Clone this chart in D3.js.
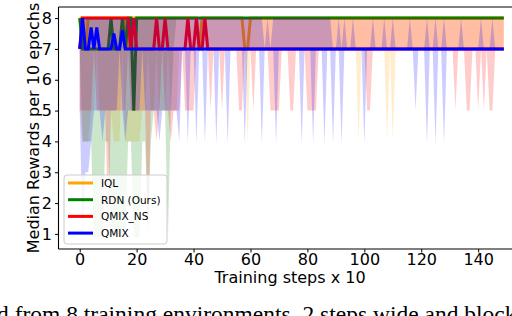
<!DOCTYPE html>
<html>
<head>
<meta charset="utf-8">
<script src="https://cdn.jsdelivr.net/npm/d3@7"></script>
<style>
  body { margin: 0; background: #fff; }
  svg { display: block; }
  .chart-text { font-family: "DejaVu Sans", sans-serif; }
  .caption { font-family: "Liberation Serif", serif; }
</style>
</head>
<body>
<div id="chart"></div>
<script>
// training steps (x 10)
var steps = d3.range(0, 150);
var xTicks = [0, 20, 40, 60, 80, 100, 120, 140];
var yTicks = [1, 2, 3, 4, 5, 6, 7, 8];
var labels = ["IQL", "RDN (Ours)", "QMIX_NS", "QMIX"];
var colors = ["orange", "green", "red", "blue"];

// IQL
var iqlMed = [8,8,7,8,8,8,8,8,8,8, 8,8,8,8,8,8,8,7,8,8, 8,8,8,8,8,8,8,8,8,8, 8,8,8,8,8,8,8,8,8,8,
  8,8,7,8,8,8,8,8,8,8, 8,8,8,8,8,8,8,8,7,7, 8,8,8,8,8,8,8,8,8,8, 8,8,8,8,8,8,8,8,8,8,
  8,8,8,8,8,8,8,8,8,8, 8,8,8,8,8,8,8,8,8,8, 8,8,8,8,8,8,8,8,8,8, 8,8,8,8,8,8,8,8,8,8,
  8,8,8,8,8,8,8,8,8,8, 8,8,8,8,8,8,8,8,8,8, 8,8,8,8,8,8,8,8,8,8];
var iqlLo = [5,4,4,4,5,5,7,5,5,5, 5,5,4,4,4,7,4,4,4,4, 4,4,5,5,7,5,5,7,5,5, 5,7,5,5,5,7,7,7,7,7,
  7,7,7,7,7,7,7,7,7,7, 7,7,7,7,7,7,7,7,7,4, 7,7,7,7,7,7,7,7,7,7, 7,7,7,7,7,7,7,7,7,7,
  7,7,7,7,7,7,7,7,7,7, 7,7,7,7,7,7,7,7,4,7, 7,7,7,7,7,7,7,7,4,7, 4,7,7,7,7,7,7,7,7,7,
  7,7,7,7,7,7,7,7,7,7, 7,7,7,7,7,7,7,7,7,7, 7,7,7,7,7,7,7,7,7,7];
var iqlHi = [8,8,8,8,8,8,8,8,8,8, 8,8,8,8,8,8,8,8,8,8, 8,8,8,8,8,8,8,8,8,8, 8,8,8,8,8,8,8,8,8,8,
  8,8,8,8,8,8,8,8,8,8, 8,8,8,8,8,8,8,8,8,8, 8,8,8,8,8,8,8,8,8,8, 8,8,8,8,8,8,8,8,8,8,
  8,8,8,8,8,8,8,8,8,8, 8,8,8,8,8,8,8,8,8,8, 8,8,8,8,8,8,8,8,8,8, 8,8,8,8,8,8,8,8,8,8,
  8,8,8,8,8,8,8,8,8,8, 8,8,8,8,8,8,8,8,8,8, 8,8,8,8,8,8,8,8,8,8];

// RDN (Ours)
var rdnMed = [8,7,7,7,7,7,7,7,7,7, 7,8,7,7,7,8,7,8,8,5, 8,8,8,8,8,8,8,8,8,8, 8,8,8,8,8,8,8,8,8,8,
  8,8,8,8,8,8,8,8,8,8, 8,8,8,8,8,8,8,8,8,8, 8,8,8,8,8,8,8,8,8,8, 8,8,8,8,8,8,8,8,8,8,
  8,8,8,8,8,8,8,8,8,8, 8,8,8,8,8,8,8,8,8,8, 8,8,8,8,8,8,8,8,8,8, 8,8,8,8,8,8,8,8,8,8,
  8,8,8,8,8,8,8,8,8,8, 8,8,8,8,8,8,8,8,8,8, 8,8,8,8,8,8,8,8,8,8];
var rdnLo = [7,4,4,4,4,0.9,0.9,0.9,0.9,4, 4,0.9,0.9,0.9,0.9,0.9,0.9,4,4,0.9, 0.9,0.9,4,4,0.9,4,5,5,5,5, 5,0.9,5,7,8,8,8,8,8,8,
  8,8,8,8,8,8,8,8,8,8, 8,8,8,8,8,8,8,8,8,8, 8,8,8,8,8,8,8,8,8,8, 8,8,8,8,8,8,8,8,8,8,
  8,8,8,8,8,8,8,8,8,8, 8,8,8,8,8,8,8,8,8,8, 8,8,8,8,8,8,8,8,8,8, 8,8,8,8,8,8,8,8,8,8,
  8,8,8,8,8,8,8,8,8,8, 8,8,8,8,8,8,8,8,8,8, 8,8,8,8,8,8,8,8,8,8];
var rdnHi = [8,8,8,8,8,8,8,8,8,8, 8,8,8,8,8,8,8,8,8,8, 8,8,8,8,8,8,8,8,8,8, 8,8,8,8,8,8,8,8,8,8,
  8,8,8,8,8,8,8,8,8,8, 8,8,8,8,8,8,8,8,8,8, 8,8,8,8,8,8,8,8,8,8, 8,8,8,8,8,8,8,8,8,8,
  8,8,8,8,8,8,8,8,8,8, 8,8,8,8,8,8,8,8,8,8, 8,8,8,8,8,8,8,8,8,8, 8,8,8,8,8,8,8,8,8,8,
  8,8,8,8,8,8,8,8,8,8, 8,8,8,8,8,8,8,8,8,8, 8,8,8,8,8,8,8,8,8,8];

// QMIX_NS
var nsMed = [7,8,8,8,8,8,8,8,8,8, 8,8,8,8,8,8,8,8,7,8, 7,7,7,7,7,7,7,8,7,7, 8,7,7,7,7,7,7,7,8,7,
  7,8,7,7,8,7,7,7,7,7, 7,7,7,7,7,7,7,7,7,7, 7,7,7,7,7,7,7,7,7,7, 7,7,7,7,7,7,7,7,7,7,
  7,7,7,7,7,7,7,7,7,7, 7,7,7,7,7,7,7,7,7,7, 7,7,7,7,7,7,7,7,7,7, 7,7,7,7,7,7,7,7,7,7,
  7,7,7,7,7,7,7,7,7,7, 7,7,7,7,7,7,7,7,7,7, 7,7,7,7,7,7,7,7,7,7];
var nsLo = [5,5,5,5,5,7,5,5,5,5, 1,5,5,5,5,5,5,7,5,5, 5,5,5,5,1,5,5,4,5,7, 5,5,4,5,5,5,7,5,5,5,
  5,7,7,7,7,7,5,7,7,7, 5,7,7,7,7,7,5,5,7,7, 7,5,7,7,7,7,7,5,5,5, 5,7,7,7,5,5,7,7,7,7,
  5,5,5,5,7,7,7,7,7,7, 7,7,7,7,7,7,7,7,7,7, 7,5,5,7,7,7,7,7,7,7, 7,7,7,7,7,7,7,7,7,7,
  7,7,7,7,7,7,7,7,7,7, 7,7,5,7,7,7,5,5,7,7, 5,7,5,7,5,5,7,7,7,7];
var nsHi = [8,8,8,8,8,8,8,8,8,8, 8,8,8,8,8,8,8,8,8,8, 8,8,8,8,8,8,8,8,8,8, 8,8,8,8,8,8,8,8,8,8,
  8,8,8,8,8,8,8,8,8,8, 8,8,8,8,8,8,8,8,8,8, 8,8,8,8,8,8,8,8,8,8, 8,8,8,8,8,8,8,8,8,8,
  8,8,8,8,8,8,8,8,8,8, 8,8,8,8,8,8,8,8,8,8, 8,8,8,8,8,8,8,8,8,8, 8,8,8,8,8,8,8,8,8,8,
  8,8,8,8,8,8,8,8,8,8, 8,8,8,8,8,8,8,8,8,8, 8,8,8,8,8,8,8,8,8,8];

// QMIX
var qmixMed = [7,8,7,7,7.7,7,7.7,7,7,7, 7,7,7.5,7,7,7.6,7,7,7,7, 7,7,7,7,7,7,7,7,7,7, 7,7,7,7,7,7,7,7,7,7,
  7,7,7,7,7,7,7,7,7,7, 7,7,7,7,7,7,7,7,7,7, 7,7,7,7,7,7,7,7,7,7, 7,7,7,7,7,7,7,7,7,7,
  7,7,7,7,7,7,7,7,7,7, 7,7,7,7,7,7,7,7,7,7, 7,7,7,7,7,7,7,7,7,7, 7,7,7,7,7,7,7,7,7,7,
  7,7,7,7,7,7,7,7,7,7, 7,7,7,7,7,7,7,7,7,7, 7,7,7,7,7,7,7,7,7,7];
var qmixLo = [5,0.9,3,3,4,5,5,5,4,5, 5,5,5,5,7,5,4,5,5,5, 5,5,7,5,5,5,5,5,4,5, 5,5,5,5,5,4,7,7,3.9,7,
  7,3.9,7,7,3.9,7,7,7,3.9,7, 7,7,3.9,7,7,7,7,7,3.9,7, 7,7,7,7,3.9,7,7,7,7,3.9, 7,7,7,7,7,7,7,7,3.9,7,
  7,7,3.9,7,7,7,3.9,7,7,3.9, 7,7,3.9,7,7,7,7,7,7,7, 3.9,7,7,7,7,7,7,7,7,7, 7,7,7,7,7,7,7,7,5,7,
  7,7,3.9,7,7,3.9,7,7,3.9,7, 7,7,7,7,7,7,7,7,7,7, 7,7,7,7,7,7,7,7,7,7];
var qmixHi = [8,8,8,8,8,8,8,8,8,8, 8,8,8,8,8,8,8,8,8,8, 8,8,8,8,8,8,8,8,8,8, 8,8,8,8,8,8,8,8,8,8,
  8,8,8,8,8,8,8,8,8,8, 8,8,8,8,8,8,8,8,8,8, 8,8,8,8,8,7,8,7,8,8, 8,8,8,8,8,8,8,8,8,8,
  8,8,8,8,8,8,8,8,8,7, 7,8,7,8,7,7,8,7,7,7, 7,7,7,8,7,7,7,8,7,7, 8,7,7,7,7,7,8,7,7,7,
  7,7,8,7,7,8,7,7,8,7, 7,7,7,7,8,7,7,7,7,7, 7,8,7,7,7,8,7,7,7,7];

var series = [
  {med: iqlMed, lo: iqlLo, hi: iqlHi},
  {med: rdnMed, lo: rdnLo, hi: rdnHi},
  {med: nsMed, lo: nsLo, hi: nsHi},
  {med: qmixMed, lo: qmixLo, hi: qmixHi}
];

var width = 512, height = 316;
var svg = d3.select("#chart").append("svg")
  .attr("width", width)
  .attr("height", height);

var xScale = d3.scaleLinear()
  .domain([-7.45, 156.45])
  .range([58.5, 525]);
var yScale = d3.scaleLinear()
  .domain([0.51, 8.36])
  .range([249, 7]);

var area = d3.area()
  .x(function(d, i) { return xScale(steps[i]); })
  .y0(function(d) { return yScale(d[0]); })
  .y1(function(d) { return yScale(d[1]); });
var line = d3.line()
  .x(function(d, i) { return xScale(steps[i]); })
  .y(function(d) { return yScale(d); });

series.forEach(function(s, k) {
  var band = steps.map(function(d, i) { return [s.lo[i], s.hi[i]]; });
  svg.append("path")
    .attr("d", area(band))
    .attr("fill", colors[k])
    .attr("fill-opacity", 0.2);
  svg.append("path")
    .attr("d", line(s.med))
    .attr("fill", "none")
    .attr("stroke", colors[k])
    .attr("stroke-width", 3);
});

// axes
var xAxis = svg.append("g")
  .attr("transform", "translate(0,249)")
  .call(d3.axisBottom(xScale).tickValues(xTicks).tickSize(3.5).tickPadding(1.5));
var yAxis = svg.append("g")
  .attr("transform", "translate(58.5,0)")
  .call(d3.axisLeft(yScale).tickValues(yTicks).tickSize(3.5).tickPadding(3));
xAxis.select(".domain").remove();
yAxis.select(".domain").remove();
svg.selectAll(".tick text")
  .attr("class", "chart-text")
  .attr("font-size", 16)
  .attr("fill", "#000");
svg.selectAll(".tick line").attr("stroke", "#000");

// spines
svg.append("line").attr("x1", 58.5).attr("x2", 58.5).attr("y1", 7).attr("y2", 249)
  .attr("stroke", "#000").attr("stroke-width", 1.1);
svg.append("line").attr("x1", 58.5).attr("x2", 525).attr("y1", 249).attr("y2", 249)
  .attr("stroke", "#000").attr("stroke-width", 1.1);
svg.append("line").attr("x1", 58.5).attr("x2", 525).attr("y1", 7).attr("y2", 7)
  .attr("stroke", "#000").attr("stroke-width", 1.1);

// axis labels
svg.append("text")
  .attr("class", "chart-text")
  .attr("x", 290).attr("y", 283)
  .attr("text-anchor", "middle")
  .attr("font-size", 16)
  .text("Training steps x 10");
svg.append("text")
  .attr("class", "chart-text")
  .attr("transform", "translate(39,128) rotate(-90)")
  .attr("text-anchor", "middle")
  .attr("font-size", 16)
  .text("Median Rewards per 10 epochs");

// legend
var legend = svg.append("g");
legend.append("rect")
  .attr("x", 64).attr("y", 175).attr("width", 103).attr("height", 69)
  .attr("rx", 3)
  .attr("fill", "#fff").attr("fill-opacity", 0.8)
  .attr("stroke", "#ccc").attr("stroke-width", 1);
labels.forEach(function(l, k) {
  var ly = 183 + k * 16.7;
  legend.append("line")
    .attr("x1", 68).attr("x2", 93).attr("y1", ly).attr("y2", ly)
    .attr("stroke", colors[k]).attr("stroke-width", 3);
  legend.append("text")
    .attr("class", "chart-text")
    .attr("x", 101).attr("y", ly + 4)
    .attr("font-size", 10.5)
    .text(l);
});

// caption of the page, cut off by the frame
svg.append("text")
  .attr("class", "caption")
  .attr("x", -3).attr("y", 322)
  .attr("font-size", 23.5)
  .text("d from 8 training environments, 2 steps wide and blocked");
</script>
</body>
</html>
